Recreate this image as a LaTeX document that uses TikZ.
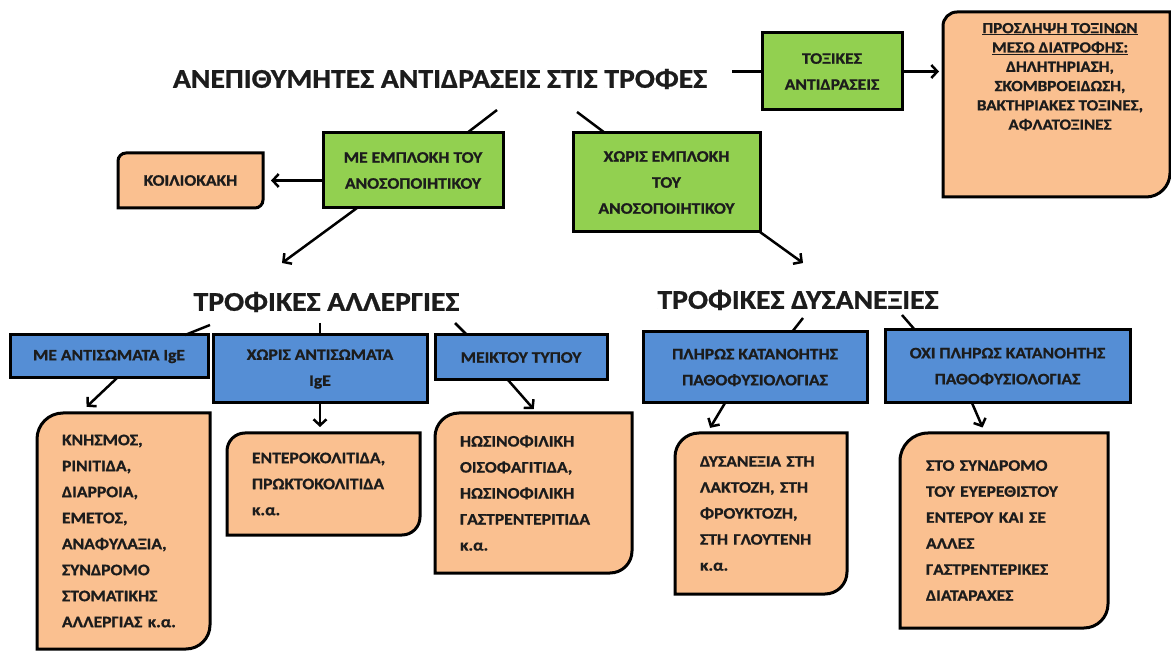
\documentclass[tikz,border=0pt]{standalone}
\usepackage{fontspec}
\setmainfont{Carlito}[FakeStretch=1.1, BoldFeatures={FakeBold=0.9}]
\usetikzlibrary{arrows.meta,calc,backgrounds}
\definecolor{gfill}{HTML}{92D050}
\definecolor{bfill}{HTML}{558ED5}
\definecolor{ofill}{HTML}{FAC090}
\definecolor{ink}{HTML}{1C1C1C}
\newcommand{\bxf}{\fontsize{16}{26}\selectfont\bfseries}
\newcommand{\ttf}{\fontsize{27}{32}\selectfont\bfseries}
\newcommand{\rdbox}[3]{\filldraw[fill=ofill, draw=black, line width=3pt] (#1.north) [sharp corners] -| (#1.east) [rounded corners=#3] |- (#1.south) [sharp corners] -| (#1.west) [rounded corners=#2] |- (#1.north);}
\tikzset{
  conn/.style={line width=2.5pt, draw=black},
  arr/.style={conn, -{Straight Barb[length=6pt,width=13pt]}},
  ttl/.style={font=\ttf, text=ink, inner sep=0pt},
  gbox/.style={draw=black, line width=3pt, fill=gfill, outer sep=0pt, align=center, font=\bxf, text=ink, inner sep=2pt},
  bbox/.style={draw=black, line width=3pt, fill=bfill, outer sep=0pt, align=center, font=\bxf, text=ink, inner sep=2pt},
  obox/.style={draw=none, outer sep=0pt, inner xsep=25pt, inner ysep=0pt, align=left, font=\bxf, text=ink},
  kbox/.style={draw=none, outer sep=0pt, inner sep=0pt, align=center, font=\bxf, text=ink}
}
\begin{document}
\begin{tikzpicture}[x=1pt,y=-1pt]
\useasboundingbox (0,0) rectangle (1171,652);

% titles
\node[ttl] (title) at (440,79) {ΑΝΕΠΙΘΥΜΗΤΕΣ ΑΝΤΙΔΡΑΣΕΙΣ ΣΤΙΣ ΤΡΟΦΕΣ};
\node[ttl] (allerg) at (326.5,302) {ΤΡΟΦΙΚΕΣ ΑΛΛΕΡΓΙΕΣ};
\node[ttl] (dys) at (798,300) {ΤΡΟΦΙΚΕΣ ΔΥΣΑΝΕΞΙΕΣ};

% green boxes
\node[gbox, minimum width=140pt, minimum height=77pt] (tox) at (832,71.5) {ΤΟΞΙΚΕΣ\\ΑΝΤΙΔΡΑΣΕΙΣ};
\node[gbox, minimum width=180pt, minimum height=75pt] (g1) at (413,170.5) {ΜΕ ΕΜΠΛΟΚΗ ΤΟΥ\\ΑΝΟΣΟΠΟΙΗΤΙΚΟΥ};
\node[gbox, minimum width=187pt, minimum height=99pt] (g2) at (666.5,182.5) {ΧΩΡΙΣ ΕΜΠΛΟΚΗ\\ΤΟΥ\\ΑΝΟΣΟΠΟΙΗΤΙΚΟΥ};

% blue boxes
\node[bbox, minimum width=198pt, minimum height=43pt] (b1) at (109,356.5) {ΜΕ ΑΝΤΙΣΩΜΑΤΑ IgE};
\node[bbox, minimum width=214pt, minimum height=68pt] (b2) at (320,369) {ΧΩΡΙΣ ΑΝΤΙΣΩΜΑΤΑ\\IgE};
\node[bbox, minimum width=172pt, minimum height=45pt] (b3) at (521,357.5) {ΜΕΙΚΤΟΥ ΤΥΠΟΥ};
\node[bbox, minimum width=224pt, minimum height=71pt] (b4) at (755,367.5) {ΠΛΗΡΩΣ ΚΑΤΑΝΟΗΤΗΣ\\ΠΑΘΟΦΥΣΙΟΛΟΓΙΑΣ};
\node[bbox, minimum width=245pt, minimum height=73pt] (b5) at (1007.5,366.5) {ΟΧΙ ΠΛΗΡΩΣ ΚΑΤΑΝΟΗΤΗΣ\\ΠΑΘΟΦΥΣΙΟΛΟΓΙΑΣ};

% orange boxes
\node[kbox, minimum width=145pt, minimum height=55pt] (koil) at (190.5,180.5) {ΚΟΙΛΙΟΚΑΚΗ};
\node[kbox, minimum width=227pt, minimum height=185pt] (toxr) at (1056.5,104.5) {};
\node[kbox, font=\fontsize{15.5}{19.3}\selectfont\bfseries, anchor=north] (toxt) at (1060,23) {\underline{ΠΡΟΣΛΗΨΗ ΤΟΞΙΝΩΝ}\\\underline{ΜΕΣΩ ΔΙΑΤΡΟΦΗΣ:}\\ΔΗΛΗΤΗΡΙΑΣΗ,\\ΣΚΟΜΒΡΟΕΙΔΩΣΗ,\\ΒΑΚΤΗΡΙΑΚΕΣ ΤΟΞΙΝΕΣ,\\ΑΦΛΑΤΟΞΙΝΕΣ};
\node[obox, minimum height=236pt, text width=123pt] (o1) at (123.5,531) {ΚΝΗΣΜΟΣ,\\ΡΙΝΙΤΙΔΑ,\\ΔΙΑΡΡΟΙΑ,\\ΕΜΕΤΟΣ,\\ΑΝΑΦΥΛΑΞΙΑ,\\ΣΥΝΔΡΟΜΟ\\ΣΤΟΜΑΤΙΚΗΣ\\ΑΛΛΕΡΓΙΑΣ κ.α.};
\node[obox, minimum height=102pt, text width=143pt] (o2) at (323.5,484) {ΕΝΤΕΡΟΚΟΛΙΤΙΔΑ,\\ΠΡΩΚΤΟΚΟΛΙΤΙΔΑ\\κ.α.};
\node[obox, minimum height=160pt, text width=147pt, inner xsep=25pt] (o3) at (533.5,493) {ΗΩΣΙΝΟΦΙΛΙΚΗ\\ΟΙΣΟΦΑΓΙΤΙΔΑ,\\ΗΩΣΙΝΟΦΙΛΙΚΗ\\ΓΑΣΤΡΕΝΤΕΡΙΤΙΔΑ\\κ.α.};
\node[obox, minimum height=161pt, text width=122pt] (o4) at (761,513.5) {ΔΥΣΑΝΕΞΙΑ ΣΤΗ\\ΛΑΚΤΟΖΗ, ΣΤΗ\\ΦΡΟΥΚΤΟΖΗ,\\ΣΤΗ ΓΛΟΥΤΕΝΗ\\κ.α.};
\node[obox, minimum height=195pt, text width=156pt, inner xsep=26pt] (o5) at (1004,530.5) {ΣΤΟ ΣΥΝΔΡΟΜΟ\\ΤΟΥ ΕΥΕΡΕΘΙΣΤΟΥ\\ΕΝΤΕΡΟΥ ΚΑΙ ΣΕ\\ΑΛΛΕΣ\\ΓΑΣΤΡΕΝΤΕΡΙΚΕΣ\\ΔΙΑΤΑΡΑΧΕΣ};

\begin{scope}[on background layer]
\fill[white] (0,0) rectangle (1171,652);
\rdbox{koil}{8pt}{8pt}
\rdbox{toxr}{14pt}{24pt}
\rdbox{o1}{26pt}{24pt}
\rdbox{o2}{18pt}{18pt}
\rdbox{o3}{24pt}{22pt}
\rdbox{o4}{24pt}{22pt}
\rdbox{o5}{28pt}{24pt}
\end{scope}

% free ends
\coordinate (tl) at (732,71.5);
\coordinate (ta) at (497,110);
\coordinate (tb) at (577,112);
\coordinate (e1) at (282,263);
\coordinate (e2) at (803,263);
\coordinate (c1) at (210,325);
\coordinate (c2) at (320,323);
\coordinate (c3) at (455,323);
\coordinate (d1) at (803,318);
\coordinate (d2) at (902,315);

% connectors
\draw[conn] (tl) -- (tox.west);
\draw[arr, shorten >=4pt] (tox.east) -- (tox.east -| toxr.west);
\draw[conn] (ta) -- (467,0 |- g1.north);
\draw[conn] (tb) -- (605,0 |- g2.north);
\draw[arr, shorten >=8pt] (koil.east -| g1.west) -- (koil.east);
\draw[arr] (357,0 |- g1.south) -- (e1);
\draw[arr] (g2.south east) -- (e2);
\draw[conn] (c1) -- (185,0 |- b1.north);
\draw[conn] (c2) -- (b2.north);
\draw[conn] (c3) -- (467,0 |- b3.north);
\draw[conn] (d1) -- (792,0 |- b4.north);
\draw[conn] (d2) -- (915,0 |- b5.north);
\draw[arr, shorten >=9pt] (117,0 |- b1.south) -- (80,0 |- o1.north);
\draw[arr, shorten >=6pt] (b2.south) -- (b2.south |- o2.north);
\draw[arr, shorten >=5pt] (508,0 |- b3.south) -- (537,0 |- o3.north);
\draw[arr, shorten >=6pt] (725,0 |- b4.south) -- (707,0 |- o4.north);
\draw[arr, shorten >=6pt] (972,0 |- b5.south) -- (985,0 |- o5.north);
\end{tikzpicture}
\end{document}
